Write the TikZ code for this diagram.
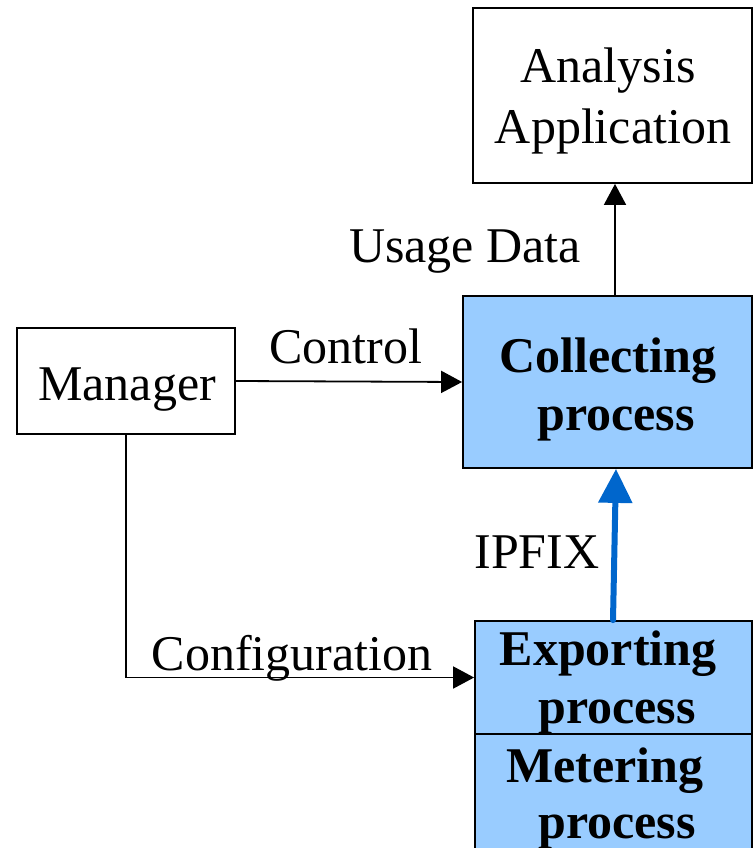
\documentclass[tikz,border=0pt]{standalone}
\usepackage{fontspec}
\setmainfont{Liberation Serif}
\usetikzlibrary{arrows.meta}
\definecolor{procfill}{RGB}{153,204,255}
\definecolor{ipfixblue}{RGB}{0,102,204}
\tikzset{
  plainbox/.style={draw=black, line width=1.8pt, fill=white, inner sep=0pt},
  procbox/.style={draw=black, line width=1.8pt, fill=procfill, inner sep=0pt},
  txt/.style={font=\fontsize{50}{58}\selectfont, inner sep=0pt, anchor=base},
  btxt/.style={font=\fontsize{50}{58}\selectfont\bfseries, inner sep=0pt, anchor=base},
  flow/.style={line width=1.8pt, -{Triangle[length=21pt,width=22pt]}},
  ipfix/.style={line width=6pt, line cap=round, draw=ipfixblue, -{Triangle[length=34pt,width=33pt]}}
}
\begin{document}
\begin{tikzpicture}[x=1pt, y=-1pt]
  \useasboundingbox (0,0) rectangle (753,848);
  \clip (0,0) rectangle (753,848);
  \fill[white] (0,0) rectangle (753,848);

  % boxes
  \node[plainbox, minimum width=279pt, minimum height=175pt] (ana) at (612.5,95.5) {};
  \node[procbox, minimum width=289pt, minimum height=172pt] (col) at (607.5,382) {};
  \node[plainbox, minimum width=218pt, minimum height=106pt] (man) at (126,381) {};
  \node[procbox, minimum width=277pt, minimum height=113pt] (exp) at (613.5,677.5) {};
  \node[procbox, minimum width=277pt, minimum height=140pt] (met) at (613.5,804) {};

  % helper coordinates for the vertical connectors
  \coordinate (upx) at (615,0);
  \coordinate (ipA) at (613,0);
  \coordinate (ipB) at (616,0);

  % connectors
  \draw[flow] (col.north -| upx) -- (ana.south -| upx);
  \draw[flow] (man.east) -- (col.west);
  \draw[flow] (man.south) |- (exp.west);
  \draw[ipfix] (exp.north -| ipA) -- (col.south -| ipB);

  % box texts
  \node[txt] (anaT1) at (608,83) {Analysis};
  \node[txt] (anaT2) at (613,143) {Application};
  \node[btxt] (colT1) at (608,372) {Collecting};
  \node[btxt] (colT2) at (616,430) {process};
  \node[txt] (manT) at (127,400) {Manager};
  \node[btxt] (expT1) at (608,665) {Exporting};
  \node[btxt] (expT2) at (617,723) {process};
  \node[btxt] (metT1) at (605,782) {Metering};
  \node[btxt] (metT2) at (617,838) {process};

  % connector labels
  \node[txt] (lblUsage) at (465,262) {Usage Data};
  \node[txt] (lblCtrl) at (346,363) {Control};
  \node[txt] (lblConf) at (292,670) {Configuration};
  \node[txt] (lblIpfix) at (537,568) {IPFIX};
\end{tikzpicture}
\end{document}
